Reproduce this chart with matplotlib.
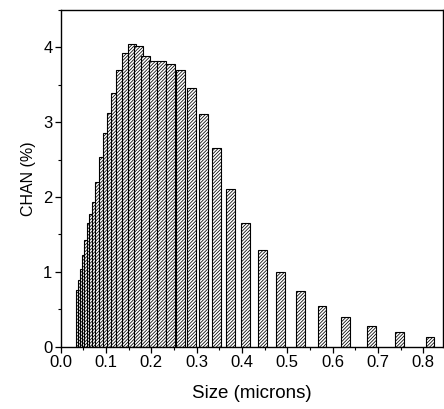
import numpy as np
import matplotlib.pyplot as plt
from matplotlib.ticker import MultipleLocator

plt.rcParams['font.family'] = ['Liberation Sans', 'DejaVu Sans']
plt.rcParams['hatch.linewidth'] = 0.55

# channel sizes (microns) and percentages
size = [0.0429, 0.0468, 0.0510, 0.0557, 0.0607, 0.0662, 0.0722, 0.0787,
        0.0858, 0.0936, 0.1020, 0.1113, 0.1213, 0.1323, 0.1443, 0.1573,
        0.1716, 0.1871, 0.2040, 0.2225, 0.2426, 0.2646, 0.2885, 0.3146,
        0.3431, 0.3741, 0.4080, 0.4449, 0.4850, 0.5290, 0.5770, 0.6290,
        0.6860, 0.7480, 0.8150]
chan = [0.76, 0.89, 1.04, 1.22, 1.42, 1.66, 1.78, 1.93,
        2.20, 2.53, 2.85, 3.12, 3.39, 3.69, 3.92, 4.04,
        4.02, 3.88, 3.81, 3.82, 3.77, 3.69, 3.46, 3.11,
        2.65, 2.11, 1.66, 1.29, 1.00, 0.75, 0.55, 0.40,
        0.28, 0.20, 0.13]

xticks = [0.0, 0.1, 0.2, 0.3, 0.4, 0.5, 0.6, 0.7, 0.8]
yticks = [0, 1, 2, 3, 4]

fig = plt.figure(figsize=(4.44, 4.09), dpi=100)
ax = fig.add_axes([0.137, 0.152, 0.861, 0.824])

ax.bar(size, chan, width=0.019, color='white', edgecolor='black',
       linewidth=0.8, hatch='//////////', align='center')

ax.set_xlim(0, 0.844)
ax.set_ylim(0, 4.5)
ax.set_xticks(xticks)
ax.set_xticklabels(['%.1f' % v for v in xticks])
ax.set_yticks(yticks)
ax.xaxis.set_minor_locator(MultipleLocator(0.05))
ax.yaxis.set_minor_locator(MultipleLocator(0.5))
ax.tick_params(which='major', direction='out', length=4, width=0.9,
               labelsize=12, pad=2)
ax.tick_params(which='minor', direction='out', length=2.5, width=0.8)
for s in ax.spines.values():
    s.set_linewidth(1.0)

ax.set_xlabel('Size (microns)', fontsize=13.5, labelpad=11)
ax.set_ylabel('CHAN (%)', fontsize=11.5, labelpad=5)

fig.savefig('out.png', dpi=100)
